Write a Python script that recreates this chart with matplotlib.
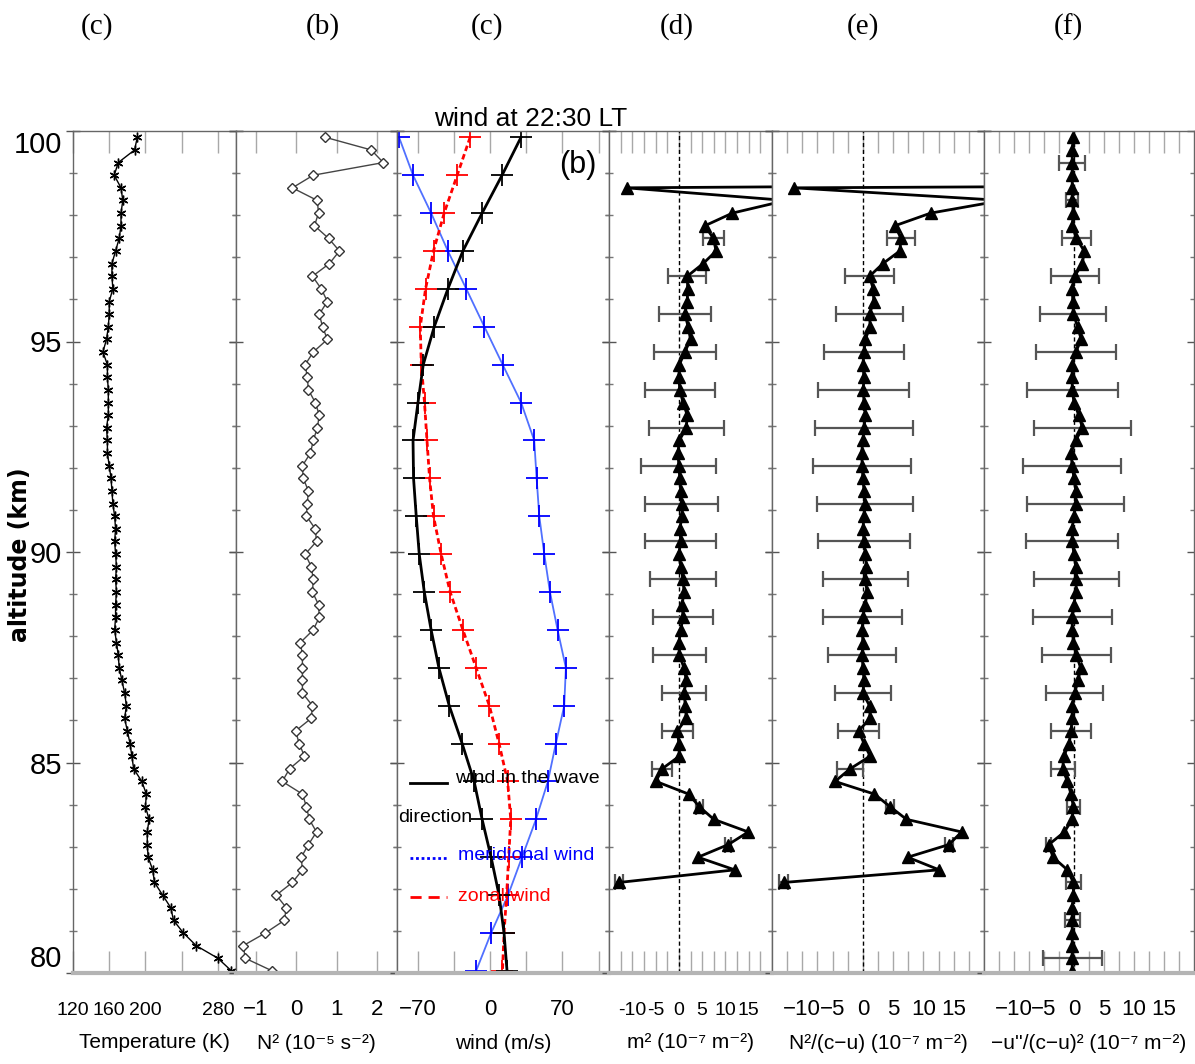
import numpy as np
import matplotlib
matplotlib.use('Agg')
import matplotlib.pyplot as plt

plt.rcParams['font.family'] = ['Liberation Sans', 'DejaVu Sans']

# altitude grids (km)
alt = np.round(99.85 - 0.3 * np.arange(67), 2)
alt_w = np.round(99.85 - 0.9 * np.arange(23), 2)

temp = [191, 188, 170, 165.5, 173, 175, 173, 173, 171, 167, 163, 163, 164, 160, 160, 159,
        157, 153, 158, 158, 159, 159, 159, 157, 158, 158, 160, 162, 163, 164, 166, 167,
        166, 167, 168, 167, 168, 167, 167, 166, 168, 170, 171, 174, 177, 179, 177, 180,
        183, 185, 187, 196, 201, 200, 204, 202, 202, 203, 208, 210, 219, 228, 231, 242,
        256, 280, 295]

n2 = [0.72, 1.86, 2.16, 0.42, -0.10, 0.52, 0.55, 0.45, 0.80, 1.07, 0.82, 0.40, 0.62, 0.77,
      0.57, 0.65, 0.77, 0.42, 0.22, 0.27, 0.30, 0.47, 0.57, 0.52, 0.42, 0.35, 0.15, 0.17,
      0.30, 0.27, 0.25, 0.47, 0.50, 0.22, 0.37, 0.42, 0.40, 0.55, 0.57, 0.42, 0.10, 0.15,
      0.15, 0.15, 0.15, 0.40, 0.37, -0.02, 0.07, 0.20, -0.17, -0.35, 0.15, 0.25, 0.32,
      0.50, 0.30, 0.12, 0.15, -0.10, -0.50, -0.25, -0.30, -0.77, -1.32, -1.27, -0.60]

wave_dir = [29.9, 11.6, -7.7, -26.3, -40.8, -54, -64.6, -69.7, -74.5, -74, -71.4, -68.5,
            -63.6, -57, -49.5, -39.5, -27, -15.4, -7.7, 1, 8.7, 13.5, 16.4]
zonal = [-19.3, -31.8, -44.4, -54.7, -62.4, -67.5, -66.5, -63.4, -61, -58.5, -54.7, -47.3,
         -38.6, -26.3, -13.5, -0.7, 8.7, 17, 20, 18, 16, 13.5, 12]
merid = [-88, -74.5, -57, -40.8, -23, -5.5, 12.2, 30, 42.7, 45, 47.6, 52.4, 57.9, 65.3,
         73.3, 71.7, 63.6, 55.9, 44.4, 30.9, 17.4, 1, -13.5]

nan = np.nan
m2 = [300, 250, 350, 400, -11.2, 23, 11.5, 5.6, 7.4, 8.0, 5.2, 1.8, 1.9, 1.8, 1.3, 2.0,
      2.5, 1.3, 0.1, 0.0, 0.2, 0.9, 1.8, 1.6, 0.1, -0.2, 0.0, 0.2, 0.4, 0.6, 0.7, 0.2, 0.4,
      0.0, 0.4, 0.9, 1.1, 0.7, 0.9, 0.4, 0.0, 0.1, 1.1, 1.6, 1.1, 1.4, 1.6, -0.3, 0.0, 0.1,
      -3.6, -4.9, 2.1, 4.4, 7.5, 14.9, 10.6, 4.1, 12.0, -12.9, nan, nan, nan, nan, nan, nan, nan]
n2cu = [300, 250, 350, 400, -11.3, 23, 11.2, 5.3, 6.3, 6.1, 3.3, 1.1, 1.7, 1.8, 1.1, 1.2,
        0.4, 0.2, 0.0, 0.2, 0.05, 0.2, 0.4, 0.2, 0.0, -0.2, -0.1, 0.0, 0.2, 0.4, 0.2, 0.0,
        0.2, 0.4, 0.6, 0.4, 0.7, 0.4, 0.0, -0.1, 0.0, -0.1, 0.0, 0.2, 0.0, 1.1, 1.2, -0.7,
        0.2, 1.2, -2.1, -4.6, 1.9, 4.5, 7.2, 16.3, 14.2, 7.4, 12.6, -13.1,
        nan, nan, nan, nan, nan, nan, nan]
uterm = [-0.1, -0.3, -0.3, -0.3, -0.3, -0.3, -0.1, -0.3, 0.4, 1.7, 1.4, 0.1, -0.3, -0.2,
         -0.1, 0.6, 1.2, 0.3, -0.3, -0.3, -0.3, 0.0, 0.8, 1.4, 0.3, -0.5, -0.3, 0.0, 0.3,
         0.3, 0.0, -0.3, -0.3, 0.0, 0.3, 0.4, 0.3, 0.0, -0.3, -0.3, -0.1, 0.4, 1.1, 0.7,
         0.1, -0.3, -0.3, -0.5, -0.8, -1.7, -1.9, -1.1, -0.5, -0.1, -0.3, -1.6, -4.2, -3.5,
         -1.1, -0.1, -0.1, -0.3, -0.3, -0.3, -0.3, -0.3, -0.3]

# error bars: every third level
err_m = [2.3, 4.1, 5.5, 6.65, 7.5, 8.1, 8.05, 7.9, 7.6, 7.05, 6.5, 5.65, 4.65, 3.35, 2.1,
         0.7, 0.7, 0.8]
err_u = [2.2, 1.0, 2.45, 4.0, 5.5, 6.65, 7.6, 8.1, 8.2, 8.1, 7.7, 7.15, 6.6, 5.75, 4.7,
         3.35, 2.0, 1.05, 0.4, 1.25, 1.25, 4.9]

panel_tags = ['(c)', '(b)', '(c)', '(d)', '(e)', '(f)']
xlabels = ['Temperature (K)', 'N² (10⁻⁵ s⁻²)', 'wind (m/s)', 'm² (10⁻⁷ m⁻²)',
           'N²/(c−u) (10⁻⁷ m⁻²)', '−u\'\'/(c−u)² (10⁻⁷ m⁻²)']

fig = plt.figure(figsize=(11.95, 10.64), dpi=100)
W, H = 1195, 1064
edges = [73, 236, 397, 609, 772, 984, 1194]
y0, y1 = 973, 131

axes = []
for i in range(6):
    ax = fig.add_axes([edges[i] / W, (H - y0) / H, (edges[i + 1] - edges[i]) / W, (y0 - y1) / H])
    ax.set_ylim(80, 100)
    ax.set_yticks([80, 85, 90, 95, 100])
    ax.set_yticks(range(80, 101), minor=True)
    ax.tick_params(axis='x', which='both', direction='in', length=16, width=1,
                   color='#a8a8a8', top=True, bottom=True, labelsize=16, pad=19)
    ax.tick_params(axis='y', which='major', direction='inout', length=10, width=1,
                   color='#555555', left=True, right=True, labelsize=21, pad=3)
    ax.tick_params(axis='y', which='minor', direction='inout', length=6, width=1,
                   color='#777777', left=True, right=True)
    for s in ax.spines.values():
        s.set_color('#666666')
        s.set_linewidth(1)
    ax.spines['bottom'].set_color('#b4b4b4')
    ax.spines['bottom'].set_linewidth(3)
    ax.set_xlabel(xlabels[i], fontsize=15, labelpad=10)
    if i > 0:
        ax.tick_params(axis='y', labelleft=False)
    axes.append(ax)

tag_x = [97, 323, 487, 677, 863, 1068]
for t, x in zip(panel_tags, tag_x):
    fig.text(x / W, 1 - 27 / H, t, ha='center', va='center', fontsize=21,
             family='Liberation Serif')

# (1) temperature
ax = axes[0]
ax.plot(temp, alt, color='black', lw=1, marker=(6, 2, 0), ms=7, mew=1)
ax.set_xlim(120, 300)
ax.set_xticks([120, 160, 200, 240, 280])
ax.set_xticklabels(['120', '160', '200', '', '280'])
ax.tick_params(axis='x', labelsize=14, pad=21)

# (2) N^2
ax = axes[1]
ax.plot(n2, alt, color='#444444', lw=1, marker='D', ms=5, mfc='white', mec='#333333', mew=1)
ax.set_xlim(-1.5, 2.5)
ax.set_xticks([-1, 0, 1, 2])
ax.set_xticklabels(['−1', '0', '1', '2'])

# (3) winds
ax = axes[2]
ax.plot(merid, alt_w, color='#5070ff', lw=1.3, marker='+', ms=16, mew=1.3, mec='blue')
ax.plot(zonal, alt_w, color='red', lw=2, ls=(0, (2, 1.2)), marker='+', ms=16, mew=1.3)
ax.plot(wave_dir, alt_w, color='black', lw=2, marker='+', ms=16, mew=1.3)
ax.set_xlim(-90, 115)
ax.set_xticks([-70, 0, 70])
ax.set_xticklabels(['−70', '0', '70'])
ax.set_xticks([-35, 35, 105], minor=True)
ax.text(0.854, 0.96, '(b)', transform=ax.transAxes, ha='center', va='center', fontsize=22)
ax.set_title('wind at 22:30 LT', fontsize=19, pad=2, x=0.63)
ax.plot([0.061, 0.236], [0.226, 0.226], transform=ax.transAxes, color='black', lw=2)
ax.text(0.274, 0.231, 'wind in the wave', transform=ax.transAxes, fontsize=14, va='center')
ax.text(0.003, 0.185, 'direction', transform=ax.transAxes, fontsize=14, va='center')
ax.plot([0.061, 0.236], [0.137, 0.137], transform=ax.transAxes, color='blue', lw=2, ls=(0, (1, 1)))
ax.text(0.288, 0.139, 'meridional wind', transform=ax.transAxes, fontsize=14, va='center', color='blue')
ax.plot([0.061, 0.236], [0.090, 0.090], transform=ax.transAxes, color='red', lw=2, ls=(0, (4, 2.5)))
ax.text(0.288, 0.091, 'zonal wind', transform=ax.transAxes, fontsize=14, va='center', color='red')

# (4)-(6) wave terms
series = [(axes[3], m2, err_m, 8), (axes[4], n2cu, err_m, 8), (axes[5], uterm, err_u, 2)]
for ax, vals, err, k0 in series:
    vals = np.array(vals, dtype=float)
    idx = np.arange(k0, k0 + 3 * len(err), 3)
    ax.axvline(0, color='black', lw=1, ls=(0, (3, 2)))
    ax.errorbar(vals[idx], alt[idx], xerr=err, fmt='none', ecolor='#555555',
                elinewidth=1.6, capsize=6, capthick=1.6)
    ax.plot(vals, alt, color='black', lw=2, marker='^', ms=9)
    ax.set_xlim(-15, 20)
    ax.set_xticks([-10, -5, 0, 5, 10, 15])
    ax.set_xticklabels(['−10', '−5', '0', '5', '10', '15'])
    ax.set_xticks([-12.5, -7.5, -2.5, 2.5, 7.5, 12.5, 17.5], minor=True)
axes[3].set_xticklabels(['-10', '-5', '0', '5', '10', '15'])
axes[3].tick_params(axis='x', labelsize=14, pad=21)

ax = axes[0]
ylabs = ax.set_yticklabels(['80', '85', '90', '95', '100'])
ylabs[0].set_va('bottom')
ylabs[-1].set_va('top')

fig.text(20 / W, 1 - 555 / H, 'altitude (km)', rotation=90, ha='center', va='center',
         fontsize=17, fontweight='bold', family='DejaVu Sans')

fig.savefig('out.png', dpi=100)
